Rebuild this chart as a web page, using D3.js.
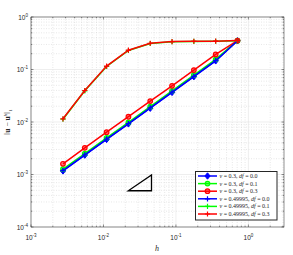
<!DOCTYPE html>
<html>
<head>
<meta charset="utf-8">
<script src="https://cdn.jsdelivr.net/npm/d3@7"></script>
<style>
  body { margin: 0; background: #fff; }
  svg text { font-family: "Liberation Sans", Arial, sans-serif; }
</style>
</head>
<body>
<div id="chart"></div>
<script>
// mesh sizes
var h = [0.002762, 0.005524, 0.01105, 0.0221, 0.04419, 0.08839, 0.1768, 0.3536, 0.7071];

// error values, one array per series
var nu03_df00 = [0.00117, 0.00234, 0.00465, 0.0092, 0.0183, 0.0366, 0.073, 0.146, 0.352];
var nu03_df01 = [0.00126, 0.0025, 0.005, 0.0098, 0.0196, 0.0393, 0.0785, 0.156, 0.354];
var nu03_df03 = [0.0016, 0.00322, 0.0064, 0.0126, 0.025, 0.0488, 0.0975, 0.194, 0.356];
var nu49_df00 = [0.00119, 0.00236, 0.0047, 0.0093, 0.0185, 0.037, 0.0738, 0.147, 0.353];
var nu49_df01 = [0.0113, 0.0392, 0.114, 0.23, 0.313, 0.338, 0.343, 0.345, 0.354];
var nu49_df03 = [0.0115, 0.0398, 0.116, 0.233, 0.316, 0.34, 0.345, 0.347, 0.356];

var seriesNu = ["0.3", "0.3", "0.3", "0.49995", "0.49995", "0.49995"];
var seriesDf = ["0.0", "0.1", "0.3", "0.0", "0.1", "0.3"];
var seriesData = [nu03_df00, nu03_df01, nu03_df03, nu49_df00, nu49_df01, nu49_df03];

// slope triangle corners (h, error)
var triH = [0.022, 0.046, 0.046];
var triE = [4.9e-4, 4.9e-4, 9.8e-4];

var xTicks = [1e-3, 1e-2, 1e-1, 1e0];
var xTickExp = ["-3", "-2", "-1", "0"];
var yTicks = [1e-4, 1e-3, 1e-2, 1e-1, 1e0];
var yTickExp = ["-4", "-3", "-2", "-1", "0"];

var colors = ["#0000ff", "#00ff00", "#ff0000", "#0000ff", "#00ff00", "#ff0000"];
var markers = ["diamond", "circle", "circle", "plus", "plus", "plus"];

var width = 293, height = 255;
var pL = 31, pR = 284, pT = 17, pB = 227;

var svg = d3.select("#chart").append("svg")
  .attr("width", width)
  .attr("height", height);

var x = d3.scaleLog().domain([1e-3, 3.1]).range([pL, pR]);
var y = d3.scaleLog().domain([1e-4, 1]).range([pB, pT]);

// minor values
var xMinor = [], yMinor = [];
for (var e = -3; e <= 0; e++) {
  for (var k = 2; k <= 9; k++) {
    var v = k * Math.pow(10, e);
    if (v <= 3.1) xMinor.push(v);
  }
}
for (var e2 = -4; e2 <= -1; e2++) {
  for (var k2 = 2; k2 <= 9; k2++) yMinor.push(k2 * Math.pow(10, e2));
}

var grid = svg.append("g");
grid.selectAll(".xmin").data(xMinor).enter().append("line")
  .attr("x1", d => x(d)).attr("x2", d => x(d))
  .attr("y1", pT).attr("y2", pB)
  .attr("stroke", "#d6d6d6").attr("stroke-width", 0.6)
  .attr("stroke-dasharray", "1,1.5");
grid.selectAll(".ymin").data(yMinor).enter().append("line")
  .attr("y1", d => y(d)).attr("y2", d => y(d))
  .attr("x1", pL).attr("x2", pR)
  .attr("stroke", "#d6d6d6").attr("stroke-width", 0.6)
  .attr("stroke-dasharray", "1,1.5");
grid.selectAll(".xmaj").data(xTicks).enter().append("line")
  .attr("x1", d => x(d)).attr("x2", d => x(d))
  .attr("y1", pT).attr("y2", pB)
  .attr("stroke", "#e3e3e3").attr("stroke-width", 0.6);
grid.selectAll(".ymaj").data(yTicks).enter().append("line")
  .attr("y1", d => y(d)).attr("y2", d => y(d))
  .attr("x1", pL).attr("x2", pR)
  .attr("stroke", "#e3e3e3").attr("stroke-width", 0.6);

// ticks on all four sides, pointing inward
var tk = svg.append("g").attr("stroke", "#262626").attr("stroke-width", 0.5);
function xt(vals, len) {
  vals.forEach(function(d) {
    tk.append("line").attr("x1", x(d)).attr("x2", x(d)).attr("y1", pB).attr("y2", pB - len);
    tk.append("line").attr("x1", x(d)).attr("x2", x(d)).attr("y1", pT).attr("y2", pT + len);
  });
}
function yt(vals, len) {
  vals.forEach(function(d) {
    tk.append("line").attr("y1", y(d)).attr("y2", y(d)).attr("x1", pL).attr("x2", pL + len);
    tk.append("line").attr("y1", y(d)).attr("y2", y(d)).attr("x1", pR).attr("x2", pR - len);
  });
}
xt(xTicks, 2.5); xt(xMinor, 1.3);
yt(yTicks, 2.5); yt(yMinor, 1.3);

svg.append("rect")
  .attr("x", pL).attr("y", pT)
  .attr("width", pR - pL).attr("height", pB - pT)
  .attr("fill", "none").attr("stroke", "#262626").attr("stroke-width", 0.5);

// tick labels
var xl = svg.append("g").attr("fill", "#262626");
xTicks.forEach(function(d, i) {
  var t = xl.append("text").attr("x", x(d)).attr("y", 240)
    .attr("text-anchor", "middle").attr("font-size", 6.5);
  t.append("tspan").text("10");
  t.append("tspan").attr("dy", -3).attr("font-size", 4.5).text(xTickExp[i]);
});
yTicks.forEach(function(d, i) {
  var t = xl.append("text").attr("x", 28).attr("y", y(d) + 2.5)
    .attr("text-anchor", "end").attr("font-size", 6.5);
  t.append("tspan").text("10");
  t.append("tspan").attr("dy", -3).attr("font-size", 4.5).text(yTickExp[i]);
});

// axis labels
svg.append("text")
  .attr("x", 157).attr("y", 251)
  .attr("text-anchor", "middle")
  .style("font-family", "'Liberation Serif', serif")
  .style("font-style", "italic")
  .attr("font-size", 8).attr("fill", "#262626")
  .text("h");

var yl = svg.append("text")
  .attr("transform", "translate(10," + ((pT + pB) / 2) + ") rotate(-90)")
  .attr("text-anchor", "middle")
  .style("font-family", "'Liberation Serif', serif")
  .attr("font-size", 7.5).attr("fill", "#262626");
yl.append("tspan").text("\u2016");
yl.append("tspan").attr("font-weight", "bold").text("u");
yl.append("tspan").text(" \u2212 ");
yl.append("tspan").attr("font-weight", "bold").text("u");
yl.append("tspan").attr("dy", -3).attr("font-size", 5).style("font-style", "italic").text("h");
yl.append("tspan").attr("dy", 3).text("\u2016");
yl.append("tspan").attr("dy", 2).attr("font-size", 5).text("1");

// markers
function drawMarker(g, type, cx, cy, col) {
  if (type === "diamond") {
    g.append("path")
      .attr("d", "M" + cx + "," + (cy - 3.2) + "L" + (cx + 2.6) + "," + cy + "L" + cx + "," + (cy + 3.2) + "L" + (cx - 2.6) + "," + cy + "Z")
      .attr("fill", col).attr("stroke", col).attr("stroke-width", 1);
  } else if (type === "circle") {
    g.append("circle").attr("cx", cx).attr("cy", cy).attr("r", 2.3)
      .attr("fill", col).attr("fill-opacity", 0.5)
      .attr("stroke", col).attr("stroke-width", 1.2);
  } else {
    g.append("path")
      .attr("d", "M" + (cx - 2.6) + "," + cy + "H" + (cx + 2.6) + "M" + cx + "," + (cy - 2.6) + "V" + (cy + 2.6))
      .attr("stroke", col).attr("stroke-width", 1.2);
  }
}

var line = d3.line().x(d => x(d[0])).y(d => y(d[1]));

seriesData.forEach(function(vals, i) {
  var pts = h.map(function(hv, j) { return [hv, vals[j]]; });
  var g = svg.append("g");
  g.append("path").datum(pts)
    .attr("d", line)
    .attr("fill", "none")
    .attr("stroke", colors[i])
    .attr("stroke-width", 1.5);
  pts.forEach(function(p) { drawMarker(g, markers[i], x(p[0]), y(p[1]), colors[i]); });
});

// slope triangle
var triPts = triH.map(function(v, i) { return [v, triE[i]]; });
svg.append("path")
  .attr("d", line(triPts) + "Z")
  .attr("fill", "none").attr("stroke", "#000").attr("stroke-width", 1.3);

// legend
var lx = 195.5, ly = 171.5, lw = 81.5, lh = 48.5;
var leg = svg.append("g");
leg.append("rect")
  .attr("x", lx).attr("y", ly).attr("width", lw).attr("height", lh)
  .attr("fill", "#fff").attr("stroke", "#262626").attr("stroke-width", 1);

seriesData.forEach(function(vals, i) {
  var yy = 176 + i * 7.6;
  leg.append("line")
    .attr("x1", 198).attr("x2", 217).attr("y1", yy).attr("y2", yy)
    .attr("stroke", colors[i]).attr("stroke-width", 1.5);
  drawMarker(leg, markers[i], 207.5, yy, colors[i]);
  var t = leg.append("text")
    .attr("x", 219.5).attr("y", yy + 2)
    .style("font-family", "'Liberation Serif', serif")
    .attr("font-size", 6).attr("fill", "#262626");
  t.append("tspan").style("font-style", "italic").text("\u03bd");
  t.append("tspan").text(" = " + seriesNu[i] + ", ");
  t.append("tspan").style("font-style", "italic").text("df");
  t.append("tspan").text(" = " + seriesDf[i]);
});
</script>
</body>
</html>
